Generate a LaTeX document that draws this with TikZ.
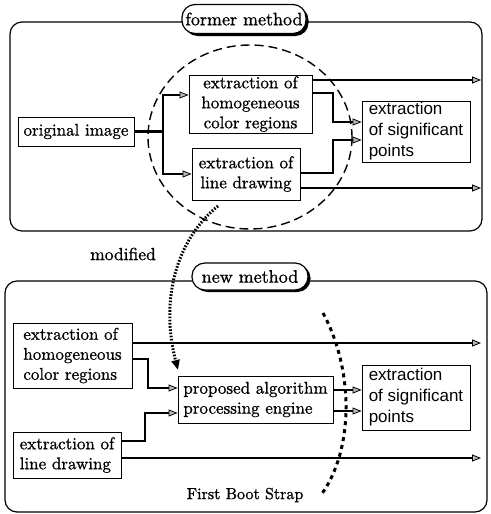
\documentclass[tikz,border=0pt]{standalone}
\usepackage{fontspec}
\newfontfamily\sansf{Liberation Sans}
\newfontfamily\srf{lmroman10-regular.otf}[FakeBold=1.0]
\usetikzlibrary{arrows.meta}
\tikzset{
  box/.style={draw, line width=0.9pt, inner sep=0pt, font=\srf\fontsize{17}{20}\selectfont, align=center},
  lbox/.style={box, align=left},
  sbox/.style={draw, line width=0.9pt, inner sep=0pt, font=\sansf\fontsize{17}{21}\selectfont, align=left},
  frame/.style={draw, line width=1.2pt, rounded corners=12pt},
  pill/.style={draw, line width=1.2pt, fill=white, rounded corners=13pt, inner sep=0pt, font=\srf\fontsize{18}{20}\selectfont},
  conn/.style={line width=2.1pt, -{Triangle[length=9pt,width=7pt,fill=gray!55,line width=0.8pt]}},
  lbl/.style={font=\srf\fontsize{17.5}{20}\selectfont, inner sep=0pt}
}
\begin{document}
\begin{tikzpicture}[x=1pt,y=-1pt]
\useasboundingbox (0,0) rectangle (490,514);
% ---------- former method ----------
\draw[frame] (10,22) rectangle (482,231);
\fill[black, rounded corners=13pt] (184.5,7) rectangle (308.5,36);
\node[pill, minimum width=124pt, minimum height=29pt] (former) at (244,19) {former method};

\node[box, minimum width=116pt, minimum height=29pt] (origT) at (76,131.5) {original image};
\node[box, minimum width=123pt, minimum height=58pt] (homogT) at (250.5,104) {extraction of\\homogeneous\\color regions};
\node[box, minimum width=108pt, minimum height=52pt] (lineT) at (246,174) {extraction of\\line drawing};
\node[sbox, minimum width=108pt, minimum height=61pt] (sigT) at (416,131.5) {extraction\\of significant\\points};

\coordinate (ja) at (163,95);
\coordinate (jb) at (163,174);
\draw[conn] (origT.east) -| (ja) -- (ja -| homogT.west);
\draw[conn] (origT.east) -| (jb) -- (jb -| lineT.west);

\coordinate (ha) at (481,80);
\draw[conn] (ha -| homogT.east) -- (ha);
\coordinate (hb) at (333,93);
\coordinate (hc) at (333,122);
\draw[conn] (hb -| homogT.east) -- (hb) -- (hc) -- (hc -| sigT.west);
\coordinate (la) at (333,173);
\coordinate (lb) at (333,140);
\draw[conn] (la -| lineT.east) -- (la) -- (lb) -- (lb -| sigT.west);
\coordinate (lc) at (481,188);
\draw[conn] (lc -| lineT.east) -- (lc);

\draw[line width=1.4pt, dash pattern=on 9pt off 5pt] (250,137) ellipse [x radius=102, y radius=92];

% ---------- modified ----------
\coordinate (ms) at (218,206);
\coordinate (me) at (178,370);
\draw[line width=3pt, dash pattern=on 1.6pt off 1.6pt, -{Triangle[length=10pt,width=8pt]}] (ms) .. controls (176,240) and (160,300) .. (me);
\node[lbl] (modl) at (123,254) {modified};

% ---------- new method ----------
\draw[frame] (5,281) rectangle (487,512);
\fill[black, rounded corners=13pt] (194.5,265) rectangle (310.5,292);
\node[pill, minimum width=116pt, minimum height=27pt] (newm) at (250,276.5) {new method};

\node[lbox, minimum width=119pt, minimum height=65pt] (homogN) at (72.5,355.5) {extraction of\\homogeneous\\color regions};
\node[lbox, minimum width=108pt, minimum height=46pt] (lineN) at (67,455) {extraction of\\line drawing};
\node[lbox, minimum width=155pt, minimum height=47pt] (propN) at (255.5,399.5) {proposed algorithm\\processing engine};
\node[sbox, minimum width=108pt, minimum height=65pt] (sigN) at (416,397.5) {extraction\\of significant\\points};

\coordinate (na) at (481,343);
\draw[conn] (na -| homogN.east) -- (na);
\coordinate (nb) at (148,359);
\coordinate (nc) at (148,388);
\draw[conn] (nb -| homogN.east) -- (nb) -- (nc) -- (nc -| propN.west);
\coordinate (nd) at (145,441);
\coordinate (ne) at (145,413);
\draw[conn] (nd -| lineN.east) -- (nd) -- (ne) -- (ne -| propN.west);
\coordinate (nf) at (481,458);
\draw[conn] (nf -| lineN.east) -- (nf);
\coordinate (pa) at (340,390);
\coordinate (pb) at (340,411);
\draw[conn] (pa -| propN.east) -- (pa -| sigN.west);
\draw[conn] (pb -| propN.east) -- (pb -| sigN.west);

\coordinate (bs) at (323,313);
\coordinate (be) at (321,495);
\draw[line width=3pt, dash pattern=on 4pt off 4pt] (bs) .. controls (354,370) and (354,450) .. (be);
\node[lbl, font=\srf\fontsize{16}{18}\selectfont] (boot) at (245,495) {First Boot Strap};
\end{tikzpicture}
\end{document}
